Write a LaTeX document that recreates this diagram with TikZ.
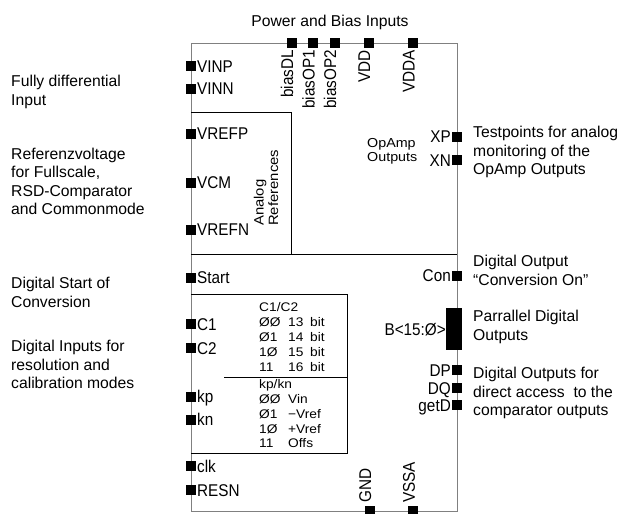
\documentclass[tikz,border=0pt]{standalone}
\usepackage{fontspec}
\usepackage{xcolor}
\usepackage{tikz}
\usetikzlibrary{positioning,calc}
\newfontfamily\notefont{Liberation Sans}
\newfontfamily\cadfont[FakeStretch=0.9]{Liberation Sans}
\newfontfamily\cadsmall[FakeStretch=1.1]{Liberation Sans}
\definecolor{framegray}{RGB}{128,128,128}
\tikzset{
	pinbox/.style={fill=black,inner sep=0pt,minimum size=10pt},
	pinlbl/.style={font=\cadfont\fontsize{17}{20}\selectfont,inner sep=0pt},
	smalltxt/.style={font=\cadsmall\fontsize{12.5}{14.7}\selectfont,inner sep=0pt},
	note/.style={font=\notefont\fontsize{15.7}{18.5}\selectfont,align=left,inner sep=0pt,anchor=north west},
	frame/.style={framegray,line width=1pt},
	part/.style={black,line width=1pt}
}

\begin{document}
\begin{tikzpicture}[x=1pt,y=-1pt]
	\useasboundingbox (0,0) rectangle (624,514);
	
	% symbol outline
	\draw[frame] (191,43) rectangle (457,511);
	\draw[part] (191,112) -- (291,112) -- (291,254);
	\draw[part] (191,254) -- (457,254);
	\draw[part] (191,294) -- (347,294) -- (347,453) -- (191,453);
	\draw[part] (224,377) -- (347,377);
	
	% left pins
	\foreach \nm/\yy in {VINP/66,VINN/88.5,VREFP/133.5,VCM/182.5,VREFN/229.5,Start/277.5,C1/324,C2/348.3,kp/396.7,kn/419.5,clk/466.3,RESN/490}{
		\node[pinbox] (p-\nm) at (191,\yy) {};
		\node[pinlbl,anchor=base west] (l-\nm) at (197,\yy+6) {\nm};
	}
	
	% right pins
	\foreach \nm/\yy in {XP/136.7,XN/160.3,Con/275.5,DP/370,DQ/388,getD/405}{
		\node[pinbox] (p-\nm) at (457,\yy) {};
		\node[pinlbl,anchor=base east] (l-\nm) at (451,\yy+6) {\nm};
	}
	\node[fill=black,inner sep=0pt,minimum width=16pt,minimum height=42pt] (bus) at (454,329) {};
	\node[pinlbl,anchor=base east] (l-bus) at (446,335) {B<15:Ø>};
	
	% top pins
	\foreach \nm/\xx in {biasDL/291.5,biasOP1/313,biasOP2/334.5,VDD/368.5,VDDA/413}{
		\node[pinbox] (p-\nm) at (\xx,43) {};
		\node[pinlbl,rotate=90,anchor=base east] (l-\nm) at (\xx+1.5,50) {\nm};
	}
	
	% bottom pins
	\foreach \nm/\xx in {GND/369.5,VSSA/413.3}{
		\node[pinbox] (p-\nm) at (\xx,511) {};
		\node[pinlbl,rotate=90,anchor=base west] (l-\nm) at (\xx+1.5,503) {\nm};
	}
	
	% inner texts
	\node[smalltxt,font=\cadsmall\fontsize{13.5}{14.5}\selectfont,align=left,rotate=90,anchor=south west] (aref) at (278.5,226) {Analog\\References};
	\node[smalltxt,font=\cadsmall\fontsize{13}{14.7}\selectfont,align=left,anchor=north west] (opout) at (367,138) {OpAmp\\Outputs};
	
	% resolution table
	\node[smalltxt,anchor=base west] (t-res) at (259,311.8) {C1/C2};
	\foreach \cc/\nb [count=\i] in {ØØ/13,Ø1/14,1Ø/15,11/16}{
		\node[smalltxt,anchor=base west] (r-c\i) at (259,311.8+14.85*\i) {\cc};
		\node[smalltxt,anchor=base west] (r-n\i) at (288,311.8+14.85*\i) {\nb};
		\node[smalltxt,anchor=base west] (r-b\i) at (310,311.8+14.85*\i) {bit};
	}
	
	% calibration table
	\node[smalltxt,anchor=base west] (t-cal) at (259,388.6) {kp/kn};
	\foreach \cc/\md [count=\i] in {ØØ/Vin,Ø1/−Vref,1Ø/+Vref,11/Offs}{
		\node[smalltxt,anchor=base west] (k-c\i) at (259,388.6+14.8*\i) {\cc};
		\node[smalltxt,anchor=base west] (k-m\i) at (288,388.6+14.8*\i) {\md};
	}
	
	% notes
	\node[note,anchor=north] (n-top) at (330,15) {Power and Bias Inputs};
	\node[note] (n-in) at (11,75) {Fully differential\\Input};
	\node[note] (n-ref) at (11,147.5) {Referenzvoltage\\for Fullscale,\\RSD-Comparator\\and Commonmode};
	\node[note] (n-start) at (11,277) {Digital Start of\\Conversion};
	\node[note] (n-dig) at (11,340) {Digital Inputs for\\resolution and\\calibration modes};
	\node[note] (n-tp) at (473,126) {Testpoints for analog\\monitoring of the\\OpAmp Outputs};
	\node[note] (n-con) at (473,255) {Digital Output\\“Conversion On”};
	\node[note] (n-bus) at (473,310) {Parrallel Digital\\Outputs};
	\node[note] (n-dout) at (473,367) {Digital Outputs for\\direct access~ to the\\comparator outputs};
\end{tikzpicture}
\end{document}
